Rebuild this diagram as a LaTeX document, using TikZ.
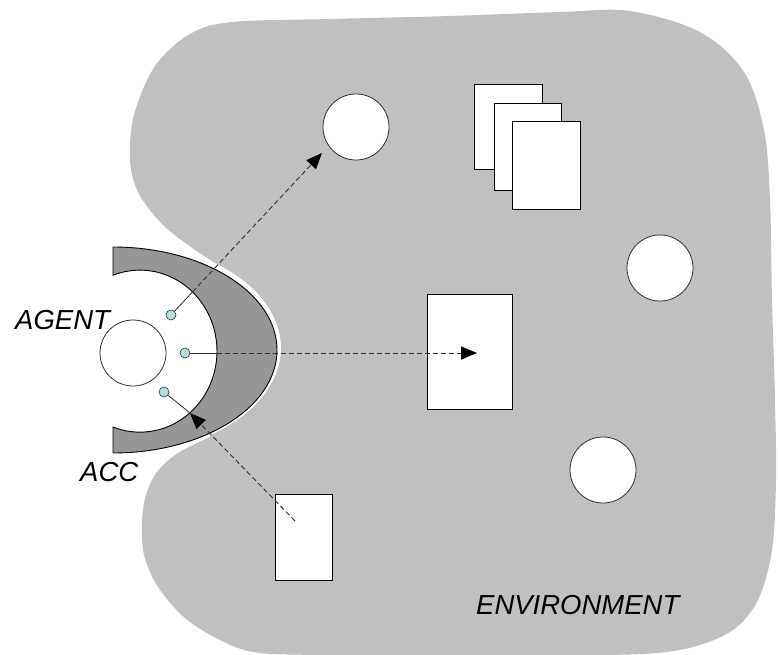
\documentclass[tikz,border=0pt]{standalone}
\usepackage{fontspec}
\setmainfont{Liberation Sans}
\usetikzlibrary{arrows.meta}
\definecolor{envgray}{HTML}{C0C0C0}
\definecolor{accgray}{HTML}{969696}
\definecolor{sensor}{HTML}{B4DEDE}
\definecolor{linegray}{HTML}{303030}
\tikzset{
  ball/.style={circle, draw=linegray, line width=0.8pt, fill=white, minimum size=66pt, inner sep=0pt},
  card/.style={draw=black, line width=1pt, fill=white, inner sep=0pt},
  port/.style={circle, draw=linegray, line width=0.6pt, fill=sensor, minimum size=10pt, inner sep=0pt},
  lbl/.style={font=\itshape\fontsize{27.5}{30}\selectfont, inner sep=0pt, anchor=base west},
  link/.style={draw=linegray, line width=0.9pt, dash pattern=on 5pt off 3pt},
  inlink/.style={draw=linegray, line width=0.8pt},
  tip/.style={-{Triangle[length=16pt,width=13pt,color=black,fill=black]}}
}
\begin{document}
\begin{tikzpicture}[x=1pt,y=-1pt]
\useasboundingbox (0,0) rectangle (778,655);
\fill[envgray] (215,263) arc[start angle=-52.6, end angle=54.7, x radius=168, y radius=107]
  -- plot[smooth, tension=0.55] coordinates {(210,437) (178,453) (157,472) (146,495) (142,522)
  (144,555) (158,587) (185,618) (220,640) (260,653) (350,655) (450,655) (550,655) (643,654)
  (693,647) (733,630) (758,600) (772,550) (776,480) (775,400) (772,300) (770,200) (764,130)
  (744,72) (700,32) (630,11) (560,12) (450,16) (330,19) (232,22) (190,34) (155,66) (134,115)
  (130,160) (138,192) (160,222) (188,245) (215,263)} -- cycle;
\filldraw[fill=accgray, draw=black, line width=0.9pt] (113,247)
  arc[start angle=-90, end angle=90, x radius=164, y radius=103] -- (113,427)
  arc[start angle=110.5, end angle=-110.5, x radius=77, y radius=81] -- cycle;
\node[ball] (agent) at (133,353) {};
\node[ball] (c1) at (356,127) {};
\node[ball] (c2) at (660,268) {};
\node[ball] (c3) at (603,470) {};
\node[card, minimum width=68pt, minimum height=85pt] (r1) at (508,127.5) {};
\node[card, minimum width=67pt, minimum height=86pt] (r2) at (527.5,147) {};
\node[card, minimum width=68pt, minimum height=87pt] (r3) at (546,165.5) {};
\node[card, minimum width=85pt, minimum height=115pt] (mid) at (469.5,351.5) {};
\node[card, minimum width=57pt, minimum height=86pt] (low) at (303.5,537) {};
\node[port] (d1) at (171,315) {};
\node[port] (d2) at (185,353) {};
\node[port] (d3) at (164,392) {};
\coordinate (e1) at (192.6,291.8);
\coordinate (e2) at (217,353);
\coordinate (e3) at (190,413);
\coordinate (t1) at (322,153);
\coordinate (t2) at (477,353);
\coordinate (s3) at (295,521);
\draw[inlink] (d1) -- (e1);
\draw[inlink] (d2) -- (e2);
\draw[inlink] (d3) -- (e3);
\draw[link, tip] (e1) -- (t1);
\draw[link, tip] (e2) -- (t2);
\draw[link, tip] (s3) -- (e3);
\node[lbl] (agentlbl) at (15,329) {AGENT};
\node[lbl] (acclbl) at (80,481) {ACC};
\node[lbl] (envlbl) at (476,614) {ENVIRONMENT};
\end{tikzpicture}
\end{document}
